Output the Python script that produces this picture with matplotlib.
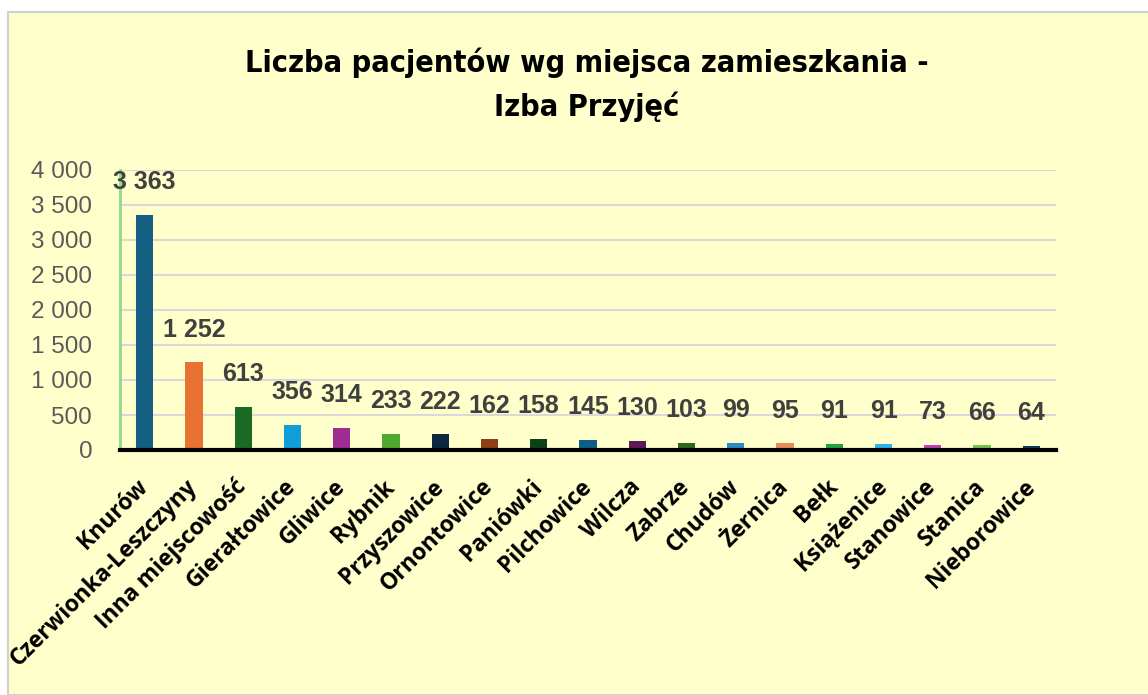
import matplotlib.pyplot as plt
from matplotlib.patches import Rectangle
from matplotlib.ticker import FuncFormatter
from matplotlib.transforms import ScaledTranslation

# dane
miejsca = ["Knurów", "Czerwionka-Leszczyny", "Inna miejscowość", "Gierałtowice",
           "Gliwice", "Rybnik", "Przyszowice", "Ornontowice", "Paniówki",
           "Pilchowice", "Wilcza", "Zabrze", "Chudów", "Żernica", "Bełk",
           "Książenice", "Stanowice", "Stanica", "Nieborowice"]
pacjenci = [3363, 1252, 613, 356, 314, 233, 222, 162, 158, 145, 130, 103,
            99, 95, 91, 91, 73, 66, 64]
kolory = ["#156082", "#E97132", "#196B24", "#0F9ED5", "#A02B93", "#4EA72E",
          "#0E2841", "#8C3F12", "#0F4117", "#0B5F85", "#601A58", "#2F6421",
          "#2A8CC2", "#EB8A5A", "#22A43A", "#2CB4EC", "#C43DB3", "#72C44A",
          "#0E3B5C"]

def fmt(v, pos=None):
    return f"{int(v):,}".replace(",", " ")

fig = plt.figure(figsize=(11.48, 6.95), dpi=100)
fig.patch.set_facecolor("white")
fig.patches.append(Rectangle((8/1148, 0), 1.0, 1 - 12/695, transform=fig.transFigure,
                             facecolor="#FFFFCC", edgecolor="#D0D0D0", linewidth=1.5,
                             zorder=-10))

ax = fig.add_axes([120/1148, 1 - 450/695, (1056 - 120)/1148, 280/695])
ax.set_facecolor("none")

x = list(range(len(miejsca)))
ax.bar(x, pacjenci, width=0.35, color=kolory, zorder=3)

for xi, v in zip(x, pacjenci):
    ax.annotate(fmt(v), (xi, v), xytext=(0, 15), textcoords="offset points",
                ha="center", va="bottom", fontsize=18, fontweight="bold",
                color="#404040", family="Liberation Sans")

ax.set_ylim(0, 4000)
ax.set_xlim(-0.5, len(miejsca) - 0.5)
ax.set_yticks(range(0, 4001, 500))
ax.yaxis.set_major_formatter(FuncFormatter(fmt))
ax.grid(axis="y", color="#D9D9D9", linewidth=1.5, zorder=0)
ax.set_axisbelow(True)

ax.set_xticks(x)
ax.set_xticklabels(miejsca, rotation=45, ha="right", va="center",
                   rotation_mode="anchor", fontsize=16.5, fontweight="bold",
                   family="Open Sans", color="black")
przes = ScaledTranslation(-14/100, 0, fig.dpi_scale_trans)
for lab in ax.get_xticklabels():
    lab.set_transform(lab.get_transform() + przes)
ax.tick_params(axis="x", length=0, pad=24)
ax.tick_params(axis="y", length=0, pad=20, labelsize=17.5, labelcolor="#595959")
for lab in ax.get_yticklabels():
    lab.set_family("Liberation Sans")

for s in ["top", "right"]:
    ax.spines[s].set_visible(False)
ax.spines["left"].set_color("#8EDB8E")
ax.spines["left"].set_linewidth(2)
ax.spines["bottom"].set_color("black")
ax.spines["bottom"].set_linewidth(3)
ax.spines["bottom"].set_zorder(5)

fig.text(587/1148, 1 - 85/695, "Liczba pacjentów wg miejsca zamieszkania -\nIzba Przyjęć",
         ha="center", va="center", fontsize=22, fontweight="bold",
         family="DejaVu Sans", fontstretch="condensed", linespacing=1.55)

fig.savefig("out.png", dpi=100)
